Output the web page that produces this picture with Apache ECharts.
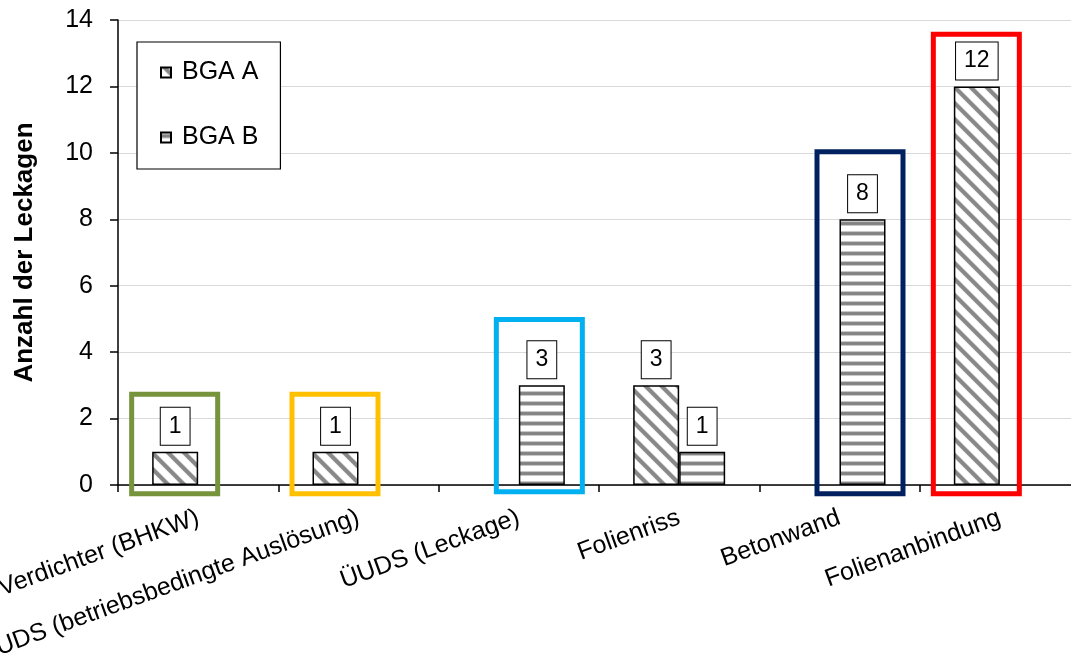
<!DOCTYPE html>
<html>
<head>
<meta charset="utf-8">
<script src="https://cdn.jsdelivr.net/npm/echarts@6/dist/echarts.min.js"></script>
<style>
html,body{margin:0;padding:0;background:#fff;}
#chart{width:1071px;height:662px;}
</style>
</head>
<body>
<div id="chart"></div>
<script>
// ---- data ----
const categories = ['Verdichter (BHKW)', 'ÜUDS (betriebsbedingte Auslösung)', 'ÜUDS (Leckage)', 'Folienriss', 'Betonwand', 'Folienanbindung'];
const seriesNames = ['BGA A', 'BGA B'];
const bgaA = [1, 1, null, 3, null, 12];
const bgaB = [null, null, 3, 1, 8, null];
const yTicks = [0, 2, 4, 6, 8, 10, 12, 14];
// highlight frames: category index, series (0 = A, 1 = B), lower value, upper value
const frameCategory = [0, 1, 2, 4, 5];
const frameSeries = [0, 0, 1, 1, 0];
const frameLow = [-0.26, -0.26, -0.2, -0.26, -0.26];
const frameHigh = [2.73, 2.73, 4.98, 10.03, 13.57];
const frameColors = ['#77933C', '#FFC000', '#00B0F0', '#002060', '#FF0000'];

// ---- style ----
const FONT = 'Liberation Sans, Arial, sans-serif';
const BAR_W = 46;
const FRAME_W = 86;
const FRAME_OFFSET = [-BAR_W / 2 - 0.5, BAR_W / 2 - 2.5];

function makeDiag() {
  const s = 16;
  const c = document.createElement('canvas');
  c.width = s; c.height = s;
  const ctx = c.getContext('2d');
  const img = ctx.createImageData(s, s);
  for (let y = 0; y < s; y++) {
    for (let x = 0; x < s; x++) {
      let d = (((x - y) % s) + s) % s;
      let dist = Math.abs(d + 0.5 - 4);
      dist = Math.min(dist, s - dist);
      let t = Math.min(Math.max((dist - 2.2) / 1.6, 0), 1);
      const v = Math.round(0x88 + (255 - 0x88) * t);
      const i = (y * s + x) * 4;
      img.data[i] = v; img.data[i + 1] = v; img.data[i + 2] = v; img.data[i + 3] = 255;
    }
  }
  ctx.putImageData(img, 0, 0);
  return c;
}
function makeHoriz() {
  const rows = [255, 200, 135, 130, 135, 200, 255, 255, 255, 255];
  const c = document.createElement('canvas');
  c.width = 4; c.height = rows.length;
  const ctx = c.getContext('2d');
  rows.forEach((v, i) => {
    ctx.fillStyle = 'rgb(' + v + ',' + v + ',' + v + ')';
    ctx.fillRect(0, i, 4, 1);
  });
  return c;
}
const patA = { image: makeDiag(), repeat: 'repeat' };
const patB = { image: makeHoriz(), repeat: 'repeat' };

const labelStyle = {
  show: true,
  position: 'top',
  distance: 7,
  fontFamily: FONT,
  fontSize: 23,
  color: '#000',
  backgroundColor: '#fff',
  borderColor: '#000',
  borderWidth: 1,
  padding: [7, 8, 7, 8],
  lineHeight: 23
};

const frameData = frameCategory.map((c, i) => [c, frameLow[i], frameHigh[i], frameSeries[i], i]);

const chart = echarts.init(document.getElementById('chart'), null, { renderer: 'canvas' });
chart.setOption({
  animation: false,
  backgroundColor: '#fff',
  grid: { left: 118, right: -9, top: 20, bottom: 177, containLabel: false, outerBoundsMode: 'none' },
  legend: {
    data: seriesNames,
    orient: 'vertical',
    left: 137,
    top: 42,
    padding: [18, 22, 19, 23],
    itemGap: 40,
    itemWidth: 10,
    itemHeight: 10,
    icon: 'rect',
    borderColor: '#000',
    borderWidth: 1.2,
    backgroundColor: '#fff',
    textStyle: { fontFamily: FONT, fontSize: 25, color: '#000', lineHeight: 24, padding: [0, 0, 0, 6] }
  },
  xAxis: {
    type: 'category',
    data: categories,
    axisLine: { lineStyle: { color: '#000', width: 1.5 } },
    axisTick: { show: true, length: 7, lineStyle: { color: '#000', width: 1.5 } },
    axisLabel: {
      rotate: 20,
      interval: 0,
      margin: 32,
      fontFamily: FONT,
      fontSize: 25,
      color: '#000'
    },
    splitLine: { show: false }
  },
  yAxis: {
    type: 'value',
    min: yTicks[0],
    max: yTicks[yTicks.length - 1],
    interval: yTicks[1] - yTicks[0],
    name: 'Anzahl der Leckagen',
    nameLocation: 'middle',
    nameGap: 80,
    nameTextStyle: { fontFamily: FONT, fontSize: 26, fontWeight: 'bold', color: '#000' },
    axisLine: { show: true, lineStyle: { color: '#000', width: 1.5 } },
    axisTick: { show: true, length: 8, lineStyle: { color: '#000', width: 1.5 } },
    axisLabel: { margin: 25, fontFamily: FONT, fontSize: 25, color: '#000' },
    splitLine: { show: true, lineStyle: { color: '#d9d9d9', width: 1.2 } }
  },
  series: [
    {
      name: seriesNames[0],
      type: 'bar',
      data: bgaA,
      barWidth: BAR_W,
      barGap: '0%',
      itemStyle: { color: patA, borderColor: '#000', borderWidth: 1.5 },
      label: labelStyle,
      z: 3
    },
    {
      name: seriesNames[1],
      type: 'bar',
      data: bgaB,
      barWidth: BAR_W,
      barGap: '0%',
      itemStyle: { color: patB, borderColor: '#000', borderWidth: 1.5 },
      label: labelStyle,
      z: 3
    },
    {
      name: 'frames',
      type: 'custom',
      clip: false,
      z: 4,
      silent: true,
      data: frameData,
      renderItem: function (params, api) {
        const cat = api.value(0);
        const lo = api.coord([cat, api.value(1)]);
        const hi = api.coord([cat, api.value(2)]);
        const cx = lo[0] + FRAME_OFFSET[api.value(3)];
        const color = frameColors[api.value(4)];
        return {
          type: 'rect',
          shape: { x: cx - FRAME_W / 2, y: hi[1], width: FRAME_W, height: lo[1] - hi[1] },
          style: { fill: 'none', stroke: color, lineWidth: 5 }
        };
      }
    }
  ]
});
</script>
</body>
</html>
